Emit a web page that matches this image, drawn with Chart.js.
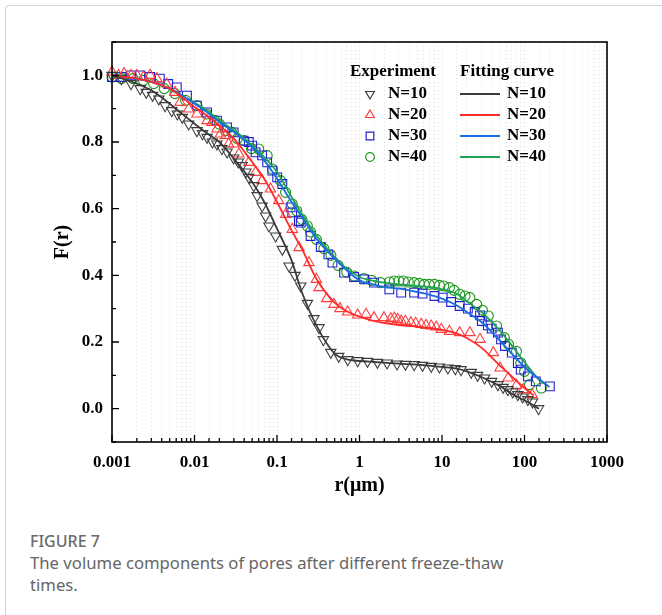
<!DOCTYPE html>
<html>
<head>
<meta charset="utf-8">
<script src="https://cdn.jsdelivr.net/npm/chart.js@4.4.0/dist/chart.umd.min.js"></script>
<style>
  body { margin: 0; background: #fff; width: 662px; height: 615px; overflow: hidden; position: relative; font-family: "Noto Sans", sans-serif; }
  #frame { position: absolute; left: 5px; top: 5px; right: -10px; bottom: -10px; border-left: 1px solid #d4d4d4; border-top: 1px solid #d4d4d4; border-radius: 4px 0 0 0; }
  #wrap { position: absolute; left: 0; top: 0; width: 662px; height: 520px; }
  .cap { position: absolute; left: 30px; color: #666; font-size: 16.7px; line-height: 22px; white-space: nowrap; }
</style>
</head>
<body>
<div id="frame"></div>
<div id="wrap"><canvas id="chart" width="662" height="520"></canvas></div>
<div class="cap" style="top:530px;font-size:16px;font-weight:500;color:#6a6a6a">FIGURE 7</div>
<div class="cap" style="top:552px">The volume components of pores after different freeze-thaw<br>times.</div>

<script>
// Experiment points, N=10
const r10 = [0.001, 0.0013, 0.0017, 0.0022, 0.0026, 0.0031, 0.0037, 0.0044, 0.0053, 0.0062, 0.0071, 0.0085,
  0.0107, 0.0125, 0.0142, 0.0165, 0.0187, 0.0215, 0.0248, 0.0298, 0.034, 0.0377, 0.042, 0.0455, 0.0524,
  0.0574, 0.066, 0.0727, 0.08, 0.0962, 0.116, 0.14, 0.165, 0.194, 0.234, 0.28, 0.323, 0.365, 0.449, 0.56,
  0.72, 0.95, 1.25, 1.65, 2.16, 2.85, 3.6, 4.6, 5.8, 7.4, 9.3, 11.8, 14.5, 17, 22.6, 27, 32.8, 40, 47.6,
  55, 63, 72, 83, 95, 110, 125, 148];
const f10 = [1.0, 0.99, 0.975, 0.96, 0.949, 0.94, 0.929, 0.909, 0.894, 0.884, 0.874, 0.854,
  0.834, 0.825, 0.814, 0.80, 0.794, 0.78, 0.77, 0.752, 0.74, 0.729, 0.71, 0.694, 0.669,
  0.639, 0.608, 0.578, 0.548, 0.518, 0.478, 0.428, 0.40, 0.368, 0.316, 0.27, 0.243, 0.207, 0.169, 0.157,
  0.147, 0.144, 0.142, 0.139, 0.137, 0.134, 0.133, 0.132, 0.13, 0.127, 0.125, 0.122, 0.12, 0.117, 0.109, 0.10, 0.092, 0.082, 0.072,
  0.064, 0.057, 0.05, 0.042, 0.035, 0.027, 0.02, 0.0];

// Experiment points, N=20
const r20 = [0.001, 0.0012, 0.0014, 0.0017, 0.002, 0.0024, 0.0029, 0.0035, 0.0046, 0.0058, 0.0067, 0.0085,
  0.0107, 0.0142, 0.0163, 0.0187, 0.0206, 0.0237, 0.0259, 0.0298, 0.0345, 0.0455, 0.055, 0.066, 0.0834,
  0.105, 0.1274, 0.1533, 0.185, 0.244, 0.30, 0.323, 0.40, 0.49, 0.58, 0.72, 0.95, 1.2, 1.5, 1.98, 2.4,
  2.64, 2.9, 3.2, 3.6, 4.2, 4.8, 5.6, 6.4, 7.4, 8.5, 9.8, 12.3, 16.4, 21.8, 28.9, 41.9, 50.6, 63.4, 80,
  96.6, 124];
const f20 = [1.01, 1.0, 1.005, 1.0, 1.0, 0.995, 1.0, 0.99, 0.974, 0.949, 0.919, 0.899,
  0.884, 0.864, 0.859, 0.839, 0.824, 0.819, 0.794, 0.794, 0.764, 0.739, 0.709, 0.684, 0.659,
  0.624, 0.583, 0.538, 0.483, 0.438, 0.388, 0.363, 0.33, 0.313, 0.30, 0.29, 0.281, 0.283, 0.273, 0.273, 0.27,
  0.272, 0.268, 0.263, 0.262, 0.258, 0.256, 0.253, 0.25, 0.248, 0.245, 0.238, 0.232, 0.228, 0.228, 0.208, 0.168, 0.122, 0.092, 0.07,
  0.057, 0.042];

// Experiment points, N=30
const r30 = [0.001, 0.0013, 0.0017, 0.0022, 0.0029, 0.0038, 0.0048, 0.0061, 0.0081, 0.0107, 0.0142, 0.0187,
  0.0248, 0.0298, 0.0395, 0.0455, 0.05, 0.055, 0.066, 0.076, 0.0877, 0.1005, 0.116, 0.146, 0.153, 0.184,
  0.194, 0.255, 0.339, 0.42, 0.47, 0.65, 0.86, 1.14, 1.5, 2.3, 3.2, 4.6, 5.8, 8.1, 10.2, 12.9, 16.4, 20.6,
  24.9, 28.9, 30.4, 36, 40, 47.6, 52, 58, 70.2, 83, 90, 110, 137, 203];
const f30 = [0.995, 0.995, 1.0, 1.0, 0.995, 0.99, 0.974, 0.964, 0.939, 0.909, 0.889, 0.864,
  0.844, 0.829, 0.804, 0.80, 0.789, 0.769, 0.76, 0.739, 0.714, 0.694, 0.674, 0.604, 0.589, 0.563,
  0.558, 0.518, 0.485, 0.463, 0.438, 0.408, 0.395, 0.388, 0.378, 0.358, 0.348, 0.348, 0.345, 0.338, 0.333, 0.32, 0.308, 0.30,
  0.29, 0.28, 0.263, 0.25, 0.24, 0.228, 0.208, 0.188, 0.168, 0.137, 0.117, 0.097, 0.082, 0.067];

// Experiment points, N=40
const r40 = [0.001, 0.0013, 0.0018, 0.0024, 0.0032, 0.0043, 0.0058, 0.0078, 0.0107, 0.014, 0.0175, 0.02,
  0.0236, 0.0283, 0.033, 0.04, 0.049, 0.06, 0.076, 0.088, 0.11, 0.127, 0.153, 0.174, 0.2, 0.233, 0.255,
  0.3, 0.37, 0.45, 0.55, 0.7, 0.86, 1.13, 1.4, 1.8, 2.3, 2.64, 3.0, 3.4, 3.9, 4.6, 5.3, 6.1, 7, 8.1, 9.3,
  10.5, 12.3, 14, 16.4, 19, 21.8, 26.3, 31, 36.4, 45.8, 57, 64, 80, 90, 100, 115, 160];
const f40 = [0.995, 0.99, 0.99, 0.985, 0.975, 0.96, 0.945, 0.925, 0.909, 0.884, 0.865, 0.854,
  0.834, 0.829, 0.81, 0.804, 0.78, 0.779, 0.759, 0.719, 0.684, 0.649, 0.614, 0.593, 0.568, 0.548, 0.53,
  0.508, 0.48, 0.46, 0.43, 0.41, 0.398, 0.39, 0.385, 0.378, 0.38, 0.383, 0.383, 0.383, 0.38, 0.378, 0.376, 0.373, 0.373, 0.373, 0.37,
  0.368, 0.363, 0.355, 0.343, 0.338, 0.333, 0.313, 0.295, 0.278, 0.248, 0.213, 0.193, 0.172, 0.137, 0.112, 0.072, 0.062];

// Fitting curves
const fitR = [0.001, 0.002, 0.003, 0.005, 0.007, 0.01, 0.015, 0.02, 0.03, 0.05, 0.07, 0.1, 0.15, 0.2, 0.3,
  0.5, 0.7, 1, 1.5, 2, 3, 5, 7, 10, 15, 20, 30, 50, 70, 100];
const fit10 = [1.0, 0.975, 0.955, 0.915, 0.885, 0.855, 0.822, 0.80, 0.75, 0.68, 0.62, 0.54, 0.445, 0.35, 0.25,
  0.165, 0.148, 0.143, 0.14, 0.138, 0.135, 0.132, 0.129, 0.125, 0.12, 0.112, 0.095, 0.068, 0.045, 0.025];
const fit20 = [1.0, 0.99, 0.98, 0.96, 0.935, 0.905, 0.875, 0.85, 0.81, 0.74, 0.69, 0.62, 0.535, 0.48, 0.39,
  0.318, 0.292, 0.276, 0.263, 0.257, 0.251, 0.246, 0.242, 0.236, 0.226, 0.212, 0.183, 0.13, 0.097, 0.062];
const fit30 = [1.0, 0.99, 0.98, 0.96, 0.94, 0.915, 0.885, 0.86, 0.83, 0.785, 0.745, 0.69, 0.62, 0.575, 0.51,
  0.45, 0.415, 0.385, 0.372, 0.365, 0.36, 0.35, 0.342, 0.33, 0.31, 0.29, 0.26, 0.205, 0.165, 0.125];
const fit40 = [0.995, 0.99, 0.98, 0.96, 0.94, 0.918, 0.89, 0.865, 0.835, 0.79, 0.755, 0.71, 0.635, 0.585, 0.52,
  0.455, 0.42, 0.395, 0.383, 0.378, 0.373, 0.368, 0.365, 0.358, 0.345, 0.322, 0.29, 0.235, 0.19, 0.14];
// where each fitted curve ends
const fitEndR = [150, 130, 200, 160];
const fitEndF = [0.0, 0.04, 0.065, 0.077];

const seriesNames = ["N=10", "N=20", "N=30", "N=40"];
const xLabelTicks = [0.001, 0.01, 0.1, 1, 10, 100, 1000];

const markColors = ["#3d3d3d", "#ff3c3c", "#2020cf", "#1c951c"];
const lineColors = ["#3a3a3a", "#ff2a2a", "#1a6de0", "#20a454"];
const markStyles = ["triangle", "triangle", "rect", "circle"];
const markRot = [180, 0, 0, 0];
const markRadius = [6, 6, 6.2, 5];
const legendRadius = [5, 5, 5.4, 4.3];

const SERIF = '"Liberation Serif", "Times New Roman", serif';

const expR = [r10, r20, r30, r40];
const expF = [f10, f20, f30, f40];
const fits = [fit10, fit20, fit30, fit40];

const datasets = [];
fits.forEach((f, i) => {
  const pts = fitR.map((r, j) => ({ x: r, y: f[j] }));
  pts.push({ x: fitEndR[i], y: fitEndF[i] });
  datasets.push({
    label: "fit " + seriesNames[i],
    data: pts,
    showLine: true,
    borderColor: lineColors[i],
    borderWidth: 1.8,
    pointRadius: 0,
    cubicInterpolationMode: "monotone",
    clip: false
  });
});
expR.forEach((rs, i) => {
  datasets.push({
    label: "exp " + seriesNames[i],
    data: rs.map((r, j) => ({ x: r, y: expF[i][j] })),
    showLine: false,
    pointStyle: markStyles[i],
    rotation: markRot[i],
    pointRadius: markRadius[i],
    pointBorderWidth: 1.1,
    pointBorderColor: markColors[i],
    pointBackgroundColor: "rgba(0,0,0,0)",
    clip: false
  });
});

function isDecade(v) {
  const l = Math.log10(v);
  return Math.abs(l - Math.round(l)) < 1e-9;
}
function isYLabel(v) {
  const k = Math.round(v * 10);
  return k % 2 === 0 && k >= 0 && k <= 10;
}

function drawMark(ctx, i, x, y) {
  const r = legendRadius[i];
  ctx.save();
  ctx.strokeStyle = markColors[i];
  ctx.lineWidth = 1.2;
  ctx.beginPath();
  if (markStyles[i] === "triangle") {
    const s = markRot[i] === 180 ? -1 : 1;
    ctx.moveTo(x, y - s * r);
    ctx.lineTo(x + r * 0.866, y + s * r * 0.5);
    ctx.lineTo(x - r * 0.866, y + s * r * 0.5);
    ctx.closePath();
  } else if (markStyles[i] === "rect") {
    const h = r * Math.SQRT1_2;
    ctx.rect(x - h, y - h, 2 * h, 2 * h);
  } else {
    ctx.arc(x, y, r, 0, Math.PI * 2);
  }
  ctx.stroke();
  ctx.restore();
}

const framePlugin = {
  id: "frame",
  afterDraw(chart) {
    const { ctx, chartArea: a } = chart;
    const xs = chart.scales.x, ys = chart.scales.y;
    ctx.save();
    ctx.strokeStyle = "#000";
    ctx.lineWidth = 1.6;
    ctx.strokeRect(a.left, a.top, a.right - a.left, a.bottom - a.top);
    // inward ticks
    ctx.lineWidth = 1.3;
    ctx.beginPath();
    xs.ticks.forEach(t => {
      const px = xs.getPixelForValue(t.value);
      const len = isDecade(t.value) ? 7 : 4;
      ctx.moveTo(px, a.bottom);
      ctx.lineTo(px, a.bottom - len);
    });
    ys.ticks.forEach(t => {
      const py = ys.getPixelForValue(t.value);
      const len = isYLabel(t.value) ? 7 : 4;
      ctx.moveTo(a.left, py);
      ctx.lineTo(a.left + len, py);
    });
    ctx.stroke();

    // axis titles
    ctx.fillStyle = "#000";
    ctx.font = "bold 20px " + SERIF;
    ctx.textAlign = "center";
    ctx.textBaseline = "middle";
    ctx.fillText("r(\u03bcm)", (a.left + a.right) / 2, 486);
    ctx.save();
    ctx.translate(63, (a.top + a.bottom) / 2);
    ctx.rotate(-Math.PI / 2);
    ctx.fillText("F(r)", 0, 0);
    ctx.restore();

    // legend
    ctx.font = "bold 17px " + SERIF;
    ctx.fillText("Experiment", 393, 72);
    ctx.fillText("Fitting curve", 507, 72);
    ctx.textAlign = "left";
    seriesNames.forEach((name, i) => {
      const y = 94 + i * 21;
      drawMark(ctx, i, 370, y);
      ctx.fillText(name, 388, y);
      ctx.strokeStyle = lineColors[i];
      ctx.lineWidth = 1.8;
      ctx.beginPath();
      ctx.moveTo(460, y);
      ctx.lineTo(500, y);
      ctx.stroke();
      ctx.fillText(name, 507, y);
    });
    ctx.restore();
  }
};

new Chart(document.getElementById("chart"), {
  type: "scatter",
  data: { datasets },
  options: {
    responsive: false,
    animation: false,
    layout: { padding: { left: 0, right: 55, top: 42, bottom: 0 } },
    plugins: { legend: { display: false }, tooltip: { enabled: false } },
    scales: {
      x: {
        type: "logarithmic",
        min: 0.001,
        max: 1000,
        afterFit: s => { s.height = 78; },
        grid: { color: "#dcdcdc", lineWidth: 1, drawTicks: false },
        border: { display: false, dash: [1, 3] },
        ticks: {
          autoSkip: false,
          maxRotation: 0,
          padding: 10,
          color: "#000",
          font: { family: SERIF, size: 17, weight: "bold" },
          callback: v => (xLabelTicks.some(t => Math.abs(t - v) / t < 1e-9) ? String(v) : "")
        }
      },
      y: {
        min: -0.1,
        max: 1.1,
        afterFit: s => { s.width = 112; },
        grid: { display: false, drawTicks: false },
        border: { display: false },
        ticks: {
          stepSize: 0.1,
          autoSkip: false,
          padding: 9,
          color: "#000",
          font: { family: SERIF, size: 17, weight: "bold" },
          callback: v => (isYLabel(v) ? v.toFixed(1) : "")
        }
      }
    }
  },
  plugins: [framePlugin]
});
</script>
</body>
</html>
